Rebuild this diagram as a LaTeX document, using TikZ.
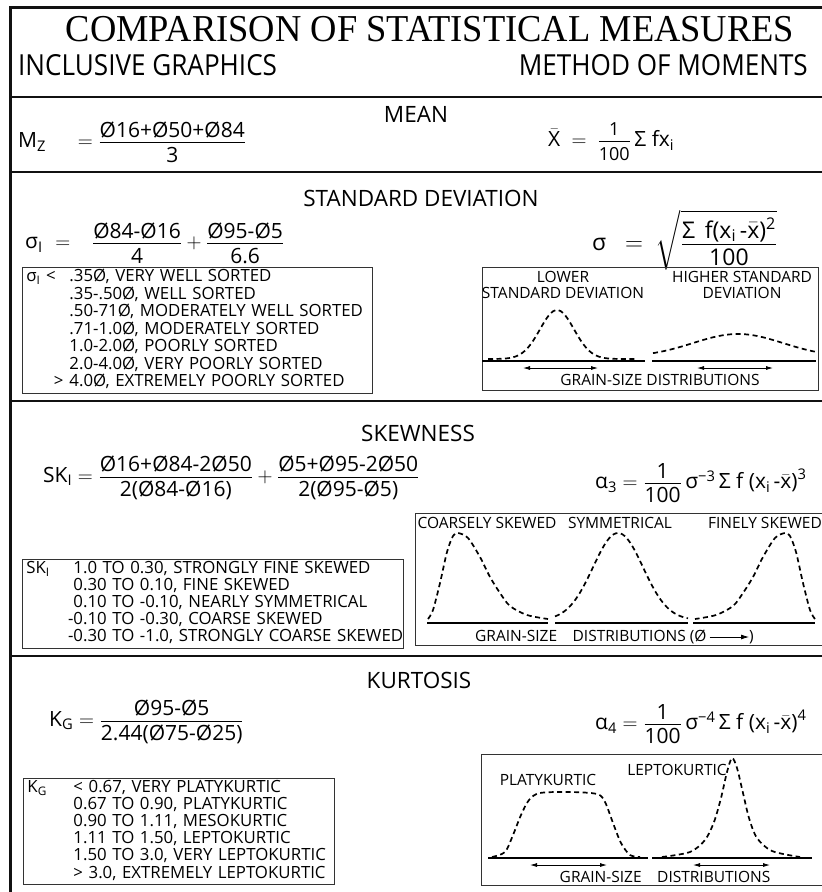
\documentclass[tikz,border=0pt]{standalone}
\usepackage{amsmath}
\usepackage{fontspec}
\setmainfont{Open Sans}
\newfontfamily\titlefont[FakeStretch=0.96]{Liberation Serif}
\newfontfamily\condfont[FakeStretch=0.9]{Open Sans}
\usepackage{tikz}
\usetikzlibrary{arrows.meta}
\definecolor{RuleBlack}{HTML}{111111}
\definecolor{BoxGray}{HTML}{333333}
\newcommand{\fr}[2]{\frac{\mbox{#1}\rule[-0.2em]{0pt}{0pt}}{\rule{0pt}{0.86em}\mbox{#2}}}
\tikzset{
  titletext/.style={font=\titlefont\fontsize{38}{42}\selectfont,inner sep=0pt},
  sidehead/.style={font=\condfont\fontsize{29}{33}\selectfont,inner sep=0pt},
  sechead/.style={font=\fontsize{22.5}{26}\selectfont,inner sep=0pt},
  eqn/.style={font=\fontsize{21}{25}\selectfont,inner sep=0pt,anchor=west},
  listbox/.style={draw=BoxGray,line width=0.9pt,anchor=north west,
    font=\fontsize{16.8}{16.3}\selectfont,align=left,inner xsep=4pt,inner ysep=2pt},
  plotbox/.style={draw=BoxGray,line width=0.9pt,anchor=north west,inner sep=0pt},
  plotlabel/.style={font=\fontsize{15.5}{16}\selectfont,inner sep=0pt,align=center},
  curveD/.style={line width=1.7pt,dash pattern=on 5pt off 3.5pt},
  axisL/.style={line width=2pt},
  spreadA/.style={{Latex[length=7pt,width=4pt]}-{Latex[length=7pt,width=4pt]},line width=0.8pt},
  sepline/.style={draw=RuleBlack,line width=2.4pt},
}

\begin{document}
\begin{tikzpicture}[x=1pt,y=-1pt]
  \useasboundingbox (0,0) rectangle (822,892);
  \draw[sepline,line width=3pt] (10,900) -- (10,7) -- (830,7);
  \node[titletext] (title) at (430,29) {COMPARISON OF STATISTICAL MEASURES};
  \node[sidehead,anchor=west] (incl) at (18,65) {INCLUSIVE GRAPHICS};
  \node[sidehead,anchor=east] (mom) at (808,65) {METHOD OF MOMENTS};
  \draw[sepline] (10,97) -- (830,97);
  \draw[sepline] (10,172) -- (830,172);
  \draw[sepline] (10,401) -- (830,401);
  \draw[sepline] (10,656) -- (830,656);

  \node[sechead] (mean) at (416,114) {MEAN};
  \node[eqn] (mz) at (18,142)
    {$\text{M}_\text{Z}\hspace{26pt}=\fr{Ø16+Ø50+Ø84}{3}$};
  \node[eqn] (xbar) at (548,142)
    {$\bar{\text{X}}\ =\ \fr{\fontsize{18}{18}\selectfont 1}{\fontsize{18}{18}\selectfont 100}\,\text{Σ\ fx}_\text{i}$};

  \node[sechead] (sd) at (421,198) {STANDARD DEVIATION};
  \node[eqn] (sdi) at (25,243)
    {$\text{σ}_\text{I}\hspace{7pt}=\hspace{16pt}\fr{Ø84-Ø16}{4}+\fr{Ø95-Ø5}{6.6}$};
  \node[eqn,font=\fontsize{23}{27}\selectfont] (sdm) at (592,240)
    {$\text{σ}\ \ =\ \sqrt{\fr{Σ\ \,f(x$_\text{i}$\,-$\bar{\text{x}}$)$^\text{2}$}{100}}$};
  \node[listbox,minimum width=350pt,minimum height=120pt,text width=342pt] (sdlist) at (22,267)
    {\begin{tabular}{@{}p{43pt}@{}l@{}}
      σ$_\text{I}$ < & .35Ø, VERY WELL SORTED\\
       & .35-.50Ø, WELL SORTED\\
       & .50-71Ø, MODERATELY WELL SORTED\\
       & .71-1.0Ø, MODERATELY SORTED\\
       & 1.0-2.0Ø, POORLY SORTED\\
       & 2.0-4.0Ø, VERY POORLY SORTED\\
      \hfill>\hspace{6pt} & 4.0Ø, EXTREMELY POORLY SORTED
    \end{tabular}};
  \node[plotbox,minimum width=336pt,minimum height=123pt] (sdplot) at (482,267) {};
  \node[plotlabel] (lowsd) at (563,285) {LOWER\\STANDARD DEVIATION};
  \node[plotlabel] (highsd) at (742,285) {HIGHER STANDARD\\DEVIATION};
  \draw[curveD] plot[domain=488:636,samples=60,smooth] (\x,{359-49*exp(-0.5*((\x-557)/17)^2)});
  \draw[curveD] plot[domain=653:815,samples=50,smooth] (\x,{357-23*exp(-0.5*((\x-738)/45)^2)});
  \coordinate (sdb1) at (482,361); \coordinate (sdb2) at (645,361);
  \coordinate (sdb3) at (652,361); \coordinate (sdb4) at (816,361);
  \draw[axisL] (sdb1) -- (sdb2);
  \draw[axisL] (sdb3) -- (sdb4);
  \coordinate (sda1) at (523,368); \coordinate (sda2) at (598,368);
  \coordinate (sda3) at (697,368); \coordinate (sda4) at (773,368);
  \draw[spreadA] (sda1) -- (sda2);
  \draw[spreadA] (sda3) -- (sda4);
  \node[plotlabel] (sdgs) at (660,380) {GRAIN-SIZE DISTRIBUTIONS};

  \node[sechead] (skew) at (418,433) {SKEWNESS};
  \node[eqn] (ski) at (43,478)
    {$\text{SK}_\text{I} = \fr{Ø16+Ø84-2Ø50}{2(Ø84-Ø16)}+\fr{Ø5+Ø95-2Ø50}{2(Ø95-Ø5)}$};
  \node[eqn] (alpha3) at (595,483)
    {$\text{α}_\text{3} = \fr{1}{100}\,\text{σ}^{\text{−3}}\,\text{Σ f (x}_\text{i}\,\text{-}\bar{\text{x}}\text{)}^\text{3}$};
  \node[listbox,minimum width=381pt,minimum height=86pt,text width=373pt] (sklist) at (22,559)
    {\begin{tabular}{@{}p{47pt}@{}l@{}}
      SK$_\text{I}$ & 1.0 TO 0.30, STRONGLY FINE SKEWED\\
       & 0.30 TO 0.10, FINE SKEWED\\
       & 0.10 TO -0.10, NEARLY SYMMETRICAL\\
       & \llap{-}0.10 TO -0.30, COARSE SKEWED\\
       & \llap{-}0.30 TO -1.0, STRONGLY COARSE SKEWED
    \end{tabular}};
  \node[plotbox,minimum width=412pt,minimum height=132pt] (skplot) at (415,513) {};
  \node[plotlabel] (coarse) at (487,523) {COARSELY SKEWED};
  \node[plotlabel] (symm) at (620,523) {SYMMETRICAL};
  \node[plotlabel] (fine) at (765,523) {FINELY SKEWED};
  \draw[curveD] plot[smooth] coordinates {(428,619) (433,610) (440,583) (447,552) (453,536) (458,533)
    (468,538) (480,557) (490,577) (500,593) (510,606) (527,615) (548,619)};
  \draw[curveD] plot[domain=555:688,samples=60,smooth] (\x,{620-87*exp(-0.5*((\x-618)/25)^2)});
  \draw[curveD] plot[smooth] coordinates {(815,619) (810,610) (803,583) (796,552) (790,536) (785,533)
    (775,538) (763,557) (753,577) (743,593) (733,606) (716,615) (695,619)};
  \coordinate (skb1) at (427,623); \coordinate (skb2) at (548,623);
  \coordinate (skb3) at (555,623); \coordinate (skb4) at (688,623);
  \coordinate (skb5) at (693,623); \coordinate (skb6) at (815,623);
  \draw[axisL] (skb1) -- (skb2);
  \draw[axisL] (skb3) -- (skb4);
  \draw[axisL] (skb5) -- (skb6);
  \node[plotlabel,anchor=west] (skgs) at (475,637) {GRAIN-SIZE\quad DISTRIBUTIONS (Ø};
  \node[plotlabel,anchor=west] (skpar) at (749,637) {)};
  \draw[-{Latex[length=8pt,width=5pt]},line width=0.8pt,shorten <=3pt] (skgs.east) -- (skpar.west);

  \node[sechead] (kurt) at (419,680) {KURTOSIS};
  \node[eqn] (kg) at (49,722)
    {$\text{K}_\text{G} = \fr{Ø95-Ø5}{2.44(Ø75-Ø25)}$};
  \node[eqn] (alpha4) at (595,724)
    {$\text{α}_\text{4} = \fr{1}{100}\,\text{σ}^{\text{−4}}\,\text{Σ f (x}_\text{i}\,\text{-}\bar{\text{x}}\text{)}^\text{4}$};
  \node[listbox,minimum width=311pt,minimum height=104pt,text width=303pt] (klist) at (23,778)
    {\begin{tabular}{@{}p{46pt}@{}l@{}}
      K$_\text{G}$ & < 0.67, VERY PLATYKURTIC\\
       & 0.67 TO 0.90, PLATYKURTIC\\
       & 0.90 TO 1.11, MESOKURTIC\\
       & 1.11 TO 1.50, LEPTOKURTIC\\
       & 1.50 TO 3.0, VERY LEPTOKURTIC\\
       & > 3.0, EXTREMELY LEPTOKURTIC
    \end{tabular}};
  \node[plotbox,minimum width=346pt,minimum height=131pt] (kplot) at (481,754) {};
  \node[plotlabel] (platy) at (548,780) {PLATYKURTIC};
  \node[plotlabel] (lepto) at (677,770) {LEPTOKURTIC};
  \draw[curveD] plot[smooth] coordinates {(492,857) (505,852) (513,835) (521,815) (529,800) (540,793)
    (570,792) (597,794) (605,802) (613,823) (621,843) (630,855) (640,857)};
  \draw[curveD] plot[smooth] coordinates {(662,857) (690,852) (705,840) (714,822) (721,798) (727,772)
    (732,758) (737,768) (743,793) (749,818) (757,838) (772,851) (800,857)};
  \coordinate (kb1) at (488,858); \coordinate (kb2) at (648,858);
  \coordinate (kb3) at (652,858); \coordinate (kb4) at (812,858);
  \draw[axisL] (kb1) -- (kb2);
  \draw[axisL] (kb3) -- (kb4);
  \coordinate (ka1) at (530,865); \coordinate (ka2) at (607,865);
  \coordinate (ka3) at (693,865); \coordinate (ka4) at (770,865);
  \draw[spreadA] (ka1) -- (ka2);
  \draw[spreadA] (ka3) -- (ka4);
  \node[plotlabel] (kgs) at (665,877) {GRAIN-SIZE\quad DISTRIBUTIONS};
\end{tikzpicture}
\end{document}
